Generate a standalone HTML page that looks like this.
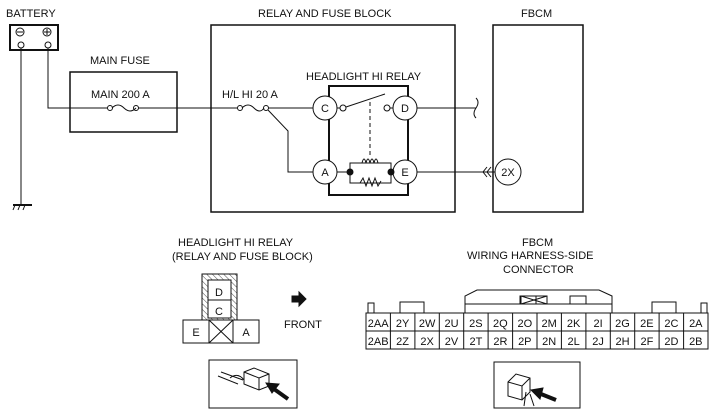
<!DOCTYPE html>
<html><head><style>
html,body{margin:0;padding:0;background:#fff;}
svg{display:block;}
text{font-family:"Liberation Sans",sans-serif;font-size:11px;fill:#111;}
</style></head><body>
<svg width="720" height="416" viewBox="0 0 720 416" xmlns="http://www.w3.org/2000/svg">
<defs>
<pattern id="h" width="4" height="4" patternUnits="userSpaceOnUse" patternTransform="rotate(-45)">
<line x1="0" y1="0" x2="0" y2="4" stroke="#222" stroke-width="0.8"/></pattern>
</defs>
<g stroke="#111" fill="none" stroke-width="1">
<rect x="10" y="25" width="48" height="25" stroke-width="2"/>
<circle cx="20" cy="32" r="4"/><line x1="17" y1="32" x2="23" y2="32"/>
<circle cx="47" cy="32" r="4"/><line x1="44" y1="32" x2="50" y2="32"/><line x1="47" y1="29" x2="47" y2="35"/>
<circle cx="21" cy="45" r="3"/><circle cx="48" cy="45" r="3"/>
<line x1="21" y1="48" x2="21" y2="204"/>
<line x1="13" y1="205" x2="32" y2="205" stroke-width="2"/>
<line x1="15" y1="205" x2="13" y2="210"/><line x1="20" y1="205" x2="18" y2="210"/><line x1="25" y1="205" x2="23" y2="210"/>
<polyline points="48,48 48,108 107,108"/>
<rect x="70" y="72" width="107" height="60" stroke-width="1.5"/>
<circle cx="110" cy="108" r="2.5"/><circle cx="136" cy="108" r="2.5"/>
<path d="M112,108 q6,-6 12,0 t12,0"/>
<line x1="138" y1="108" x2="237" y2="108"/>
<rect x="211" y="25" width="244" height="187" stroke-width="1.5"/>
<circle cx="240" cy="108" r="2.5"/><circle cx="266" cy="108" r="2.5"/>
<path d="M242,108 q6,-6 12,0 t10,0"/>
<line x1="268" y1="108" x2="313" y2="108"/>
<polyline points="268,110 288,131 288,172 313,172"/>
<rect x="329" y="86" width="79" height="109" stroke-width="2"/>
<circle cx="325" cy="108" r="12" fill="#fff"/>
<circle cx="405" cy="108" r="12" fill="#fff"/>
<circle cx="325" cy="172" r="12" fill="#fff"/>
<circle cx="405" cy="172" r="12" fill="#fff"/>
<line x1="337" y1="108" x2="340" y2="108"/><circle cx="343" cy="108" r="3" fill="#fff"/>
<circle cx="387" cy="108" r="3" fill="#fff"/><line x1="390" y1="108" x2="393" y2="108"/>
<line x1="346" y1="107" x2="385" y2="94"/>
<line x1="370" y1="102" x2="370" y2="155" stroke-dasharray="4,3"/>
<line x1="337" y1="172" x2="392" y2="172"/>
<rect x="350" y="163" width="41" height="20" fill="#fff"/>
<path d="M362,163 q2,-8 4,0 q2,-8 4,0 q2,-8 4,0 q2,-8 4,0"/>
<path d="M360,183 l3,-5 l3,8 l3,-8 l3,8 l3,-8 l3,8 l3,-5"/>
<circle cx="350" cy="172" r="3" fill="#111"/><circle cx="391" cy="172" r="3" fill="#111"/>
<line x1="417" y1="108" x2="476" y2="108"/>
<path d="M476,98 q4,4 0,10 q-4,6 0,10"/>
<line x1="417" y1="172" x2="495" y2="172"/>
<path d="M487,167 l-4,5 l4,5 M491,167 l-4,5 l4,5"/>
<rect x="493" y="25" width="90" height="187" stroke-width="1.5"/>
<circle cx="508" cy="172" r="13" fill="#fff"/>
<rect x="202" y="274" width="35" height="46" fill="url(#h)"/>
<rect x="208" y="280" width="23" height="38" fill="#fff"/>
<line x1="208" y1="300" x2="231" y2="300"/>
<rect x="183" y="320" width="76" height="23" fill="#fff"/>
<line x1="209" y1="320" x2="209" y2="343"/><line x1="233" y1="320" x2="233" y2="343"/>
<line x1="209" y1="320" x2="233" y2="343"/><line x1="233" y1="320" x2="209" y2="343"/>
<path d="M292,296 h7 v-4 l7,7 l-7,7 v-4 h-7 z" fill="#111"/>
<rect x="209" y="360" width="88" height="48"/>
<path d="M218,376 l20,8 M221,372 l22,8 M230,378 q8,-6 14,2"/>
<path d="M244,372 l10,-4 l15,6 v12 l-10,4 l-15,-6 z M244,372 l15,6 l10,-4 M259,378 v12"/>
<line x1="288" y1="399" x2="274" y2="389" stroke-width="4"/>
<path d="M266,383 l13,1 l-7,9 z" fill="#111"/>
<rect x="494" y="362" width="86" height="46"/>
<path d="M508,382 l8,-8 l14,4 v14 l-8,8 l-14,-4 z M508,382 l14,4 l8,-8 M522,386 v14"/>
<path d="M526,392 l-2,14 M530,394 l4,12"/>
<line x1="556" y1="400" x2="541" y2="394" stroke-width="4"/>
<path d="M531,390 l12,-2 l-3,11 z" fill="#111"/>
<path d="M465,313 v-17 l12,-6 h122 l13,6 v17"/>
<line x1="465" y1="304" x2="612" y2="304"/>
<rect x="520" y="296" width="16" height="8"/><rect x="570" y="296" width="16" height="8"/>
<path d="M521,296 h26 v8 h-26 z M521,296 l26,8 M547,296 l-26,8"/>
<rect x="368" y="303" width="6" height="10"/>
<rect x="400" y="302" width="24" height="11"/>
<rect x="652" y="302" width="24" height="11"/>
<rect x="701" y="303" width="6" height="10"/>
<rect x="366" y="313" width="342" height="36" fill="#fff"/>
<line x1="366" y1="331" x2="708" y2="331"/>
</g>
<g stroke="#111" stroke-width="1">
<line x1="390.4" y1="313" x2="390.4" y2="349"/><line x1="414.9" y1="313" x2="414.9" y2="349"/>
<line x1="439.3" y1="313" x2="439.3" y2="349"/><line x1="463.7" y1="313" x2="463.7" y2="349"/>
<line x1="488.1" y1="313" x2="488.1" y2="349"/><line x1="512.6" y1="313" x2="512.6" y2="349"/>
<line x1="537" y1="313" x2="537" y2="349"/><line x1="561.4" y1="313" x2="561.4" y2="349"/>
<line x1="585.9" y1="313" x2="585.9" y2="349"/><line x1="610.3" y1="313" x2="610.3" y2="349"/>
<line x1="634.7" y1="313" x2="634.7" y2="349"/><line x1="659.1" y1="313" x2="659.1" y2="349"/>
<line x1="683.6" y1="313" x2="683.6" y2="349"/>
</g>
<text x="6" y="17">BATTERY</text>
<text x="258" y="17">RELAY AND FUSE BLOCK</text>
<text x="521" y="17">FBCM</text>
<text x="90" y="64">MAIN FUSE</text>
<text x="91" y="98">MAIN 200 A</text>
<text x="222" y="98">H/L HI 20 A</text>
<text x="306" y="80">HEADLIGHT HI RELAY</text>
<g text-anchor="middle" font-size="12">
<text x="325" y="112">C</text><text x="405" y="112">D</text>
<text x="325" y="176">A</text><text x="405" y="176">E</text>
<text x="508" y="176">2X</text>
<text x="219" y="296">D</text><text x="219" y="315">C</text>
<text x="196" y="336">E</text><text x="246" y="336">A</text>
</g>
<text x="178" y="246">HEADLIGHT HI RELAY</text>
<text x="172" y="260">(RELAY AND FUSE BLOCK)</text>
<text x="284" y="328">FRONT</text>
<text x="522" y="246">FBCM</text>
<text x="467" y="259">WIRING HARNESS-SIDE</text>
<text x="503" y="273">CONNECTOR</text>
<g text-anchor="middle" font-size="11">
<text x="378.2" y="327">2AA</text><text x="402.6" y="327">2Y</text><text x="427.1" y="327">2W</text><text x="451.5" y="327">2U</text><text x="475.9" y="327">2S</text><text x="500.4" y="327">2Q</text><text x="524.8" y="327">2O</text><text x="549.2" y="327">2M</text><text x="573.6" y="327">2K</text><text x="598.1" y="327">2I</text><text x="622.5" y="327">2G</text><text x="646.9" y="327">2E</text><text x="671.4" y="327">2C</text><text x="695.8" y="327">2A</text>
<text x="378.2" y="345">2AB</text><text x="402.6" y="345">2Z</text><text x="427.1" y="345">2X</text><text x="451.5" y="345">2V</text><text x="475.9" y="345">2T</text><text x="500.4" y="345">2R</text><text x="524.8" y="345">2P</text><text x="549.2" y="345">2N</text><text x="573.6" y="345">2L</text><text x="598.1" y="345">2J</text><text x="622.5" y="345">2H</text><text x="646.9" y="345">2F</text><text x="671.4" y="345">2D</text><text x="695.8" y="345">2B</text>
</g>
</svg>
</body></html>
